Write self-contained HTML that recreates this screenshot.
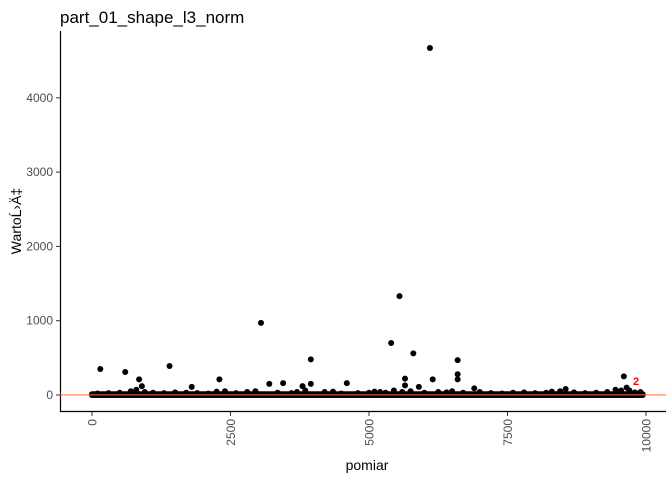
<!DOCTYPE html>
<html><head><meta charset="utf-8"><style>
body{margin:0;background:#fff;}
svg{display:block;font-family:"Liberation Sans",sans-serif;}
</style></head><body>
<svg id="chart" width="672" height="480">
<text x="60" y="23" font-size="17" fill="#000">part_01_shape_l3_norm</text>
<g id="grid"></g>
<g id="pts"></g>
<line x1="60.5" y1="31" x2="60.5" y2="412" stroke="#000" stroke-width="1.2"/>
<line x1="60" y1="411.5" x2="666" y2="411.5" stroke="#000" stroke-width="1.2"/>
<text x="367" y="470" font-size="14" text-anchor="middle" fill="#000">pomiar</text>
<text transform="translate(21,221) rotate(-90)" font-size="14" text-anchor="middle" fill="#000">WartoĹ›Ä‡</text>
</svg>
<script>
const xTicks=[0,2500,5000,7500,10000];
const yTicks=[0,1000,2000,3000,4000];
const outX=[150,600,850,900,1400,1800,2300,3050,3200,3450,3800,3950,3950,4600,5400,5550,5650,5650,5800,5900,6100,6150,6600,6600,6600,6900,8550,9600,9650,9450,9700];
const outY=[350,310,210,120,390,110,210,970,150,160,120,480,150,160,700,1330,220,130,560,110,4670,210,470,280,210,90,80,250,100,70,60];
const smallX=[100,300,500,700,800,950,1100,1300,1500,1700,1900,2100,2250,2400,2600,2800,2950,3350,3600,3700,3850,4200,4350,4500,4800,5000,5100,5200,5300,5450,5600,5750,6000,6250,6400,6500,6700,7000,7200,7400,7600,7800,8000,8200,8300,8450,8700,8900,9100,9300,9550,9800,9900];
const smallY=[20,25,30,50,70,40,30,25,35,30,25,20,45,50,25,40,50,30,25,40,60,40,45,20,25,30,45,40,30,60,40,50,30,40,35,50,30,40,25,20,30,35,25,30,45,50,35,25,30,40,60,35,40];
const baseVals=[0,5,10];
const sx=v=>92+v*(554/10000), sy=v=>395-v*0.0743;
const NS="http://www.w3.org/2000/svg";
const svg=document.getElementById('chart'),P=document.getElementById('pts'),G=document.getElementById('grid');
function mk(t,a,p){const e=document.createElementNS(NS,t);for(const k in a)e.setAttribute(k,a[k]);(p||svg).appendChild(e);return e;}
xTicks.forEach(v=>{
 const l=mk('line',{x1:sx(v),x2:sx(v),y1:412,y2:416,stroke:'#333'});
 
 
 const t=mk('text',{transform:`translate(${sx(v)+4.5},419) rotate(-90)`,'font-size':12,fill:'#4d4d4d','text-anchor':'end'});
 t.textContent=v;
 
 
});
yTicks.forEach(v=>{
 const l=mk('line',{x1:56,x2:60,y1:sy(v),y2:sy(v),stroke:'#333'});
 
 
 const t=mk('text',{x:53,y:sy(v)+4,'font-size':12,fill:'#4d4d4d','text-anchor':'end'});
 t.textContent=v;
 
 
});
for(let i=0;i<=9950;i+=20){baseVals.forEach(b=>{
 const c=mk('circle',{cx:sx(i),cy:sy(b),r:3,fill:'#000'},P);
 
 
});}
smallX.forEach((x,i)=>{
 const c=mk('circle',{cx:sx(x),cy:sy(smallY[i]),r:3,fill:'#000'},P);
 
 
});
outX.forEach((x,i)=>{
 const c=mk('circle',{cx:sx(x),cy:sy(outY[i]),r:3,fill:'#000'},P);
 
 
});
const hl=mk('line',{x1:60,x2:666,y1:sy(2),y2:sy(2),stroke:'#FF6A3D','stroke-width':1});


const lab=mk('text',{x:633,y:385,'font-size':11,'font-weight':'bold',fill:'#FF0000'});
lab.textContent='2';


</script>
</body></html>
